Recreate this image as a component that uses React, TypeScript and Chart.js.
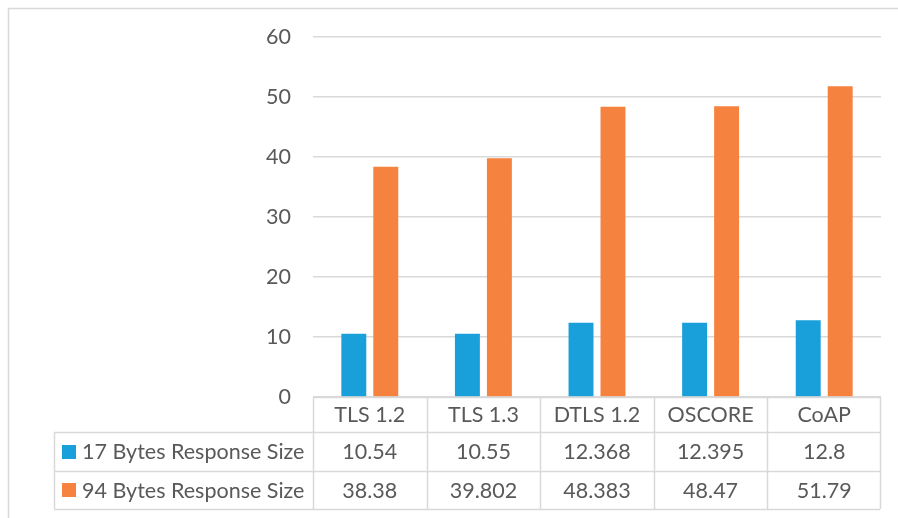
import React, { useEffect, useRef } from "react";
import { Chart, registerables } from "chart.js";

Chart.register(...registerables);

const categories = ["TLS 1.2", "TLS 1.3", "DTLS 1.2", "OSCORE", "CoAP"];
const seriesNames = ["17 Bytes Response Size", "94 Bytes Response Size"];
const small = [10.54, 10.55, 12.368, 12.395, 12.8];
const large = [38.38, 39.802, 48.383, 48.47, 51.79];
const smallText = ["10.54", "10.55", "12.368", "12.395", "12.8"];
const largeText = ["38.38", "39.802", "48.383", "48.47", "51.79"];

const BLUE = "#199FDA";
const ORANGE = "#F5823E";
const TEXT = "#595959";
const LINE = "#D9D9D9";
const FONT = "Lato, 'Open Sans', sans-serif";
const FONT_SIZE = 21.5;

const W = 898;
const H = 518;

// Data table under the plot, aligned to the category scale
const tablePlugin = {
  id: "dataTable",
  afterDraw(chart: any) {
    const ctx = chart.ctx as CanvasRenderingContext2D;
    const area = chart.chartArea;
    const x = chart.scales.x;
    const n = categories.length;
    const step = (area.right - area.left) / n;
    const px = (v: number) => Math.round(v) + 0.5;

    const headTop = area.bottom;
    const row1 = headTop + 35;
    const row2 = row1 + 39;
    const row3 = row2 + 38;
    const tableLeft = 54;
    const tableRight = area.left + step * n - 1;

    ctx.save();
    ctx.strokeStyle = LINE;
    ctx.lineWidth = 1.5;

    // outer frame
    ctx.beginPath();
    ctx.moveTo(8.5, H);
    ctx.lineTo(8.5, 8.5);
    ctx.lineTo(W, 8.5);
    ctx.stroke();

    // horizontal rules
    ctx.beginPath();
    ctx.moveTo(area.left, px(headTop));
    ctx.lineTo(tableRight, px(headTop));
    for (const y of [row1, row2, row3]) {
      ctx.moveTo(tableLeft, px(y));
      ctx.lineTo(tableRight, px(y));
    }
    // vertical rules
    ctx.moveTo(px(tableLeft), row1);
    ctx.lineTo(px(tableLeft), row3);
    for (let i = 0; i <= n; i++) {
      const vx = i === n ? tableRight : area.left + step * i;
      ctx.moveTo(px(vx), headTop);
      ctx.lineTo(px(vx), row3);
    }
    ctx.stroke();

    ctx.fillStyle = TEXT;
    ctx.font = `${FONT_SIZE}px ${FONT}`;
    ctx.textBaseline = "middle";
    ctx.textAlign = "center";
    categories.forEach((c, i) => {
      const cx = x.getPixelForValue(i);
      ctx.fillText(c, cx, (headTop + row1) / 2 + 1);
      ctx.fillText(smallText[i], cx, (row1 + row2) / 2 + 1);
      ctx.fillText(largeText[i], cx, (row2 + row3) / 2 + 1);
    });

    // legend keys in the first column
    const rows = [
      [(row1 + row2) / 2, BLUE, seriesNames[0]],
      [(row2 + row3) / 2, ORANGE, seriesNames[1]],
    ] as [number, string, string][];
    ctx.textAlign = "left";
    for (const [cy, color, name] of rows) {
      ctx.fillStyle = color;
      ctx.fillRect(62, Math.round(cy) - 7, 14, 14);
      ctx.fillStyle = TEXT;
      ctx.fillText(name, 82, cy + 1);
    }
    ctx.restore();
  },
};

export default function App() {
  const ref = useRef<HTMLCanvasElement>(null);

  useEffect(() => {
    document.body.style.margin = "0";
    const canvas = ref.current;
    if (!canvas) return;
    const chart = new Chart(canvas, {
      type: "bar",
      data: {
        labels: categories,
        datasets: [
          {
            label: seriesNames[0],
            data: small,
            backgroundColor: BLUE,
            barPercentage: 0.78,
            categoryPercentage: 0.563,
          },
          {
            label: seriesNames[1],
            data: large,
            backgroundColor: ORANGE,
            barPercentage: 0.78,
            categoryPercentage: 0.563,
          },
        ],
      },
      options: {
        responsive: false,
        animation: false,
        devicePixelRatio: 1,
        layout: { padding: { top: 37, bottom: 121, left: 0, right: 17 } },
        plugins: {
          legend: { display: false },
          tooltip: { enabled: false },
        },
        scales: {
          x: { display: false },
          y: {
            min: 0,
            max: 60,
            afterFit: (scale: any) => {
              scale.width = 313;
            },
            ticks: {
              stepSize: 10,
              padding: 22,
              color: TEXT,
              font: { family: FONT, size: FONT_SIZE },
            },
            grid: { color: LINE, lineWidth: 1.5, drawTicks: false },
            border: { display: false },
          },
        },
      },
      plugins: [tablePlugin],
    });
    return () => chart.destroy();
  }, []);

  return (
    <div style={{ width: W, height: H, background: "#fff" }}>
      <canvas ref={ref} width={W} height={H} style={{ display: "block" }} />
    </div>
  );
}
